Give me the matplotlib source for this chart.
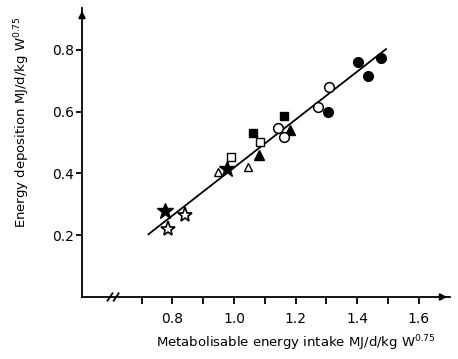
import matplotlib
matplotlib.use("Agg")
import matplotlib.pyplot as plt

# Data
filled_star_x = [0.776, 0.976]
filled_star_y = [0.278, 0.413]
open_star_x = [0.787, 0.841]
open_star_y = [0.219, 0.265]
open_tri_x = [0.949, 1.045]
open_tri_y = [0.404, 0.421]
filled_tri_x = [1.081, 1.182]
filled_tri_y = [0.460, 0.540]
open_sq_x = [0.989, 1.085]
open_sq_y = [0.454, 0.501]
filled_sq_x = [1.063, 1.163]
filled_sq_y = [0.531, 0.585]
open_circ_x = [1.144, 1.163, 1.272, 1.309]
open_circ_y = [0.547, 0.517, 0.615, 0.680]
filled_circ_x = [1.307, 1.402, 1.435, 1.478]
filled_circ_y = [0.599, 0.759, 0.714, 0.773]
fit_x = [0.722, 1.494]
fit_y = [0.203, 0.802]

x_ticks = [0.7, 0.8, 0.9, 1.0, 1.1, 1.2, 1.3, 1.4, 1.5, 1.6]
x_ticklabels = ["", "0.8", "", "1.0", "", "1.2", "", "1.4", "", "1.6"]
y_ticks = [0.2, 0.4, 0.6, 0.8]
y_ticklabels = ["0.2", "0.4", "0.6", "0.8"]

plt.rcParams['font.family'] = ['DejaVu Sans']
fig = plt.figure(figsize=(4.58, 3.59), dpi=100)
ax = fig.add_axes([82/458, (359-297)/359, (450-82)/458, (297-8)/359])
ax.set_xlim(0.506, 1.702)
ax.set_ylim(0, 0.935)

ax.plot(fit_x, fit_y, color='black', lw=1.3, zorder=2)
kw = dict(color='black', linestyle='none', zorder=3)
ax.plot(filled_star_x, filled_star_y, marker='*', markersize=12, markerfacecolor='black', **kw)
ax.plot(open_star_x, open_star_y, marker='*', markersize=11, markerfacecolor='white', markeredgewidth=1.2, **kw)
ax.plot(open_tri_x, open_tri_y, marker='^', markersize=6, markerfacecolor='white', markeredgewidth=1.0, **kw)
ax.plot(filled_tri_x, filled_tri_y, marker='^', markersize=7, markerfacecolor='black', **kw)
ax.plot(open_sq_x, open_sq_y, marker='s', markersize=6, markerfacecolor='white', markeredgewidth=1.0, **kw)
ax.plot(filled_sq_x, filled_sq_y, marker='s', markersize=6, markerfacecolor='black', **kw)
ax.plot(open_circ_x, open_circ_y, marker='o', markersize=7, markerfacecolor='white', markeredgewidth=1.1, **kw)
ax.plot(filled_circ_x, filled_circ_y, marker='o', markersize=7, markerfacecolor='black', **kw)

for s in ['top', 'right']:
    ax.spines[s].set_visible(False)
for s in ['left', 'bottom']:
    ax.spines[s].set_linewidth(1.3)

ax.set_xticks(x_ticks)
ax.set_xticklabels(x_ticklabels, fontsize=10)
ax.set_yticks(y_ticks)
ax.set_yticklabels(y_ticklabels, fontsize=10)
ax.tick_params(axis='x', direction='out', length=5, width=1.3, pad=6)
ax.tick_params(axis='y', direction='out', length=4, width=1.3, pad=2)

# axis arrows
ax.annotate('', xy=(1.0, 0), xycoords='axes fraction', xytext=(0.97, 0),
            arrowprops=dict(arrowstyle='-|>', color='black', lw=1.3, mutation_scale=10))
ax.annotate('', xy=(0, 1.0), xycoords='axes fraction', xytext=(0, 0.97),
            arrowprops=dict(arrowstyle='-|>', color='black', lw=1.3, mutation_scale=10))

# axis break marks
for xb in [0.597, 0.617]:
    ax.plot([xb - 0.008, xb + 0.008], [-0.012, 0.012], color='black', lw=1.3,
            clip_on=False, zorder=4)

fig.text(22/458, 1 - 122/359, 'Energy deposition MJ/d/kg W$^{0.75}$', rotation=90,
         ha='center', va='center', fontsize=9.5)
fig.text(296/458, 1 - 343/359, 'Metabolisable energy intake MJ/d/kg W$^{0.75}$',
         ha='center', va='center', fontsize=9.5)

fig.savefig('out.png', dpi=100)
